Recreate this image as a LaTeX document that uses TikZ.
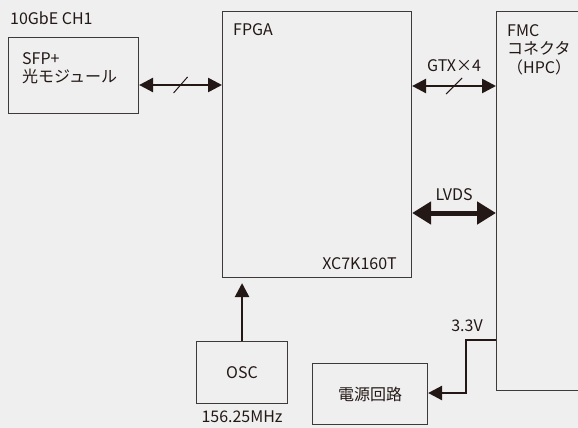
\documentclass[tikz,border=0pt]{standalone}
\usepackage{fontspec}
\setmainfont{Noto Sans CJK JP}
\usetikzlibrary{arrows.meta,positioning}
\definecolor{bg}{HTML}{EFEFEF}
\definecolor{ink}{HTML}{231815}
\definecolor{edge}{HTML}{3E3A39}
\tikzset{
     block/.style = { draw=edge, line width=1.1pt, anchor=north west, inner sep=0pt },
       txt/.style = { font=\fontsize{16}{18.5}\selectfont, text=ink, inner sep=0pt },
     arrow/.style = { line width=2.6pt, color=ink, {Triangle[length=14pt,width=14pt]}-{Triangle[length=14pt,width=14pt]} },
    barrow/.style = { line width=5pt, color=ink, {Triangle[length=19pt,width=22pt]}-{Triangle[length=19pt,width=22pt]} },
    parrow/.style = { line width=2.6pt, color=ink, -{Triangle[length=14pt,width=14pt]} },
     slash/.style = { line width=1pt, color=ink }
}

\begin{document}
\begin{tikzpicture}[x=1pt,y=-1pt]
  \fill[bg] (0,0) rectangle (578,428);
  \clip (0,0) rectangle (578,428);
  \useasboundingbox (0,0) rectangle (578,428);

  % blocks
  \node[block, minimum width=130pt, minimum height=76pt] (sfp) at (8,37) {};
  \node[block, minimum width=189pt, minimum height=266pt] (fpga) at (222,11) {};
  \node[block, minimum width=120pt, minimum height=379pt] (fmc) at (496,11) {};
  \node[block, minimum width=91pt, minimum height=62pt] (osc) at (196,341) {};
  \node[block, minimum width=115pt, minimum height=61pt] (pwr) at (312,363) {};

  % labels
  \node[txt, anchor=base west] (ch) at (10,25) {10GbE CH1};
  \node[txt, anchor=north west, align=left] (sfpname) at (22,52) {SFP+\\光モジュール};
  \node[txt, anchor=base west] (fpganame) at (233,36) {FPGA};
  \node[txt, anchor=base east] (part) at (397,269) {XC7K160T};
  \node[txt, anchor=north west, align=left] (fmcname) at (507,24) {FMC\\コネクタ\\（HPC）};
  \node[txt] (oscname) at (osc.center) {OSC};
  \node[txt, anchor=north] (freq) at ([yshift=-6pt]osc.south) {156.25MHz};
  \node[txt] (pwrname) at (pwr.center) {電源回路};

  % connections
  \draw[arrow] (sfp.east |- 0,85) -- (fpga.west |- 0,85)
    coordinate[pos=0.5] (s1);
  \draw[slash] ([shift={(-7,8)}]s1) -- ([shift={(7,-8)}]s1);

  \draw[arrow] (fpga.east |- 0,86) -- (fmc.west |- 0,86)
    node[txt, midway, above=13pt] (gtx) {GTX×4}
    coordinate[pos=0.5] (s2);
  \draw[slash] ([shift={(-8,8)}]s2) -- ([shift={(8,-8)}]s2);

  \draw[barrow] (fpga.east |- 0,213) -- (fmc.west |- 0,213)
    node[txt, midway, above=10pt] (lvds) {LVDS};

  \coordinate (clkin) at ([yshift=-5pt]fpga.south -| osc.north);
  \draw[parrow] (osc.north) -- (clkin);
  \coordinate (bend) at (466,393);
  \draw[parrow] (fmc.west |- 0,340) -| (bend) -- (pwr.east |- bend);
  \node[txt, anchor=base] (volt) at (467,331) {3.3V};
\end{tikzpicture}
\end{document}
